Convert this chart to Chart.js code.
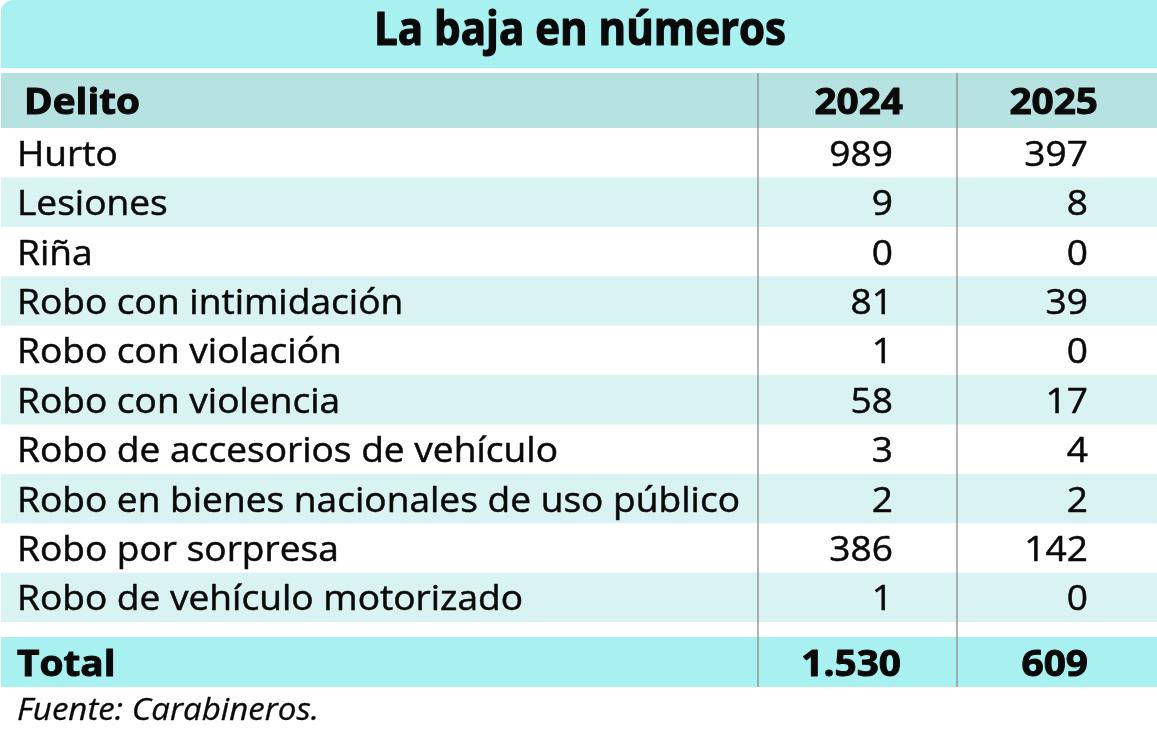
<!DOCTYPE html>
<html lang="es">
<head>
<meta charset="utf-8">
<title>La baja en números</title>
<script src="https://cdn.jsdelivr.net/npm/chart.js@4.4.1/dist/chart.umd.min.js"></script>
<style>
    html, body { margin: 0; padding: 0; background: #ffffff; }
    #wrap { width: 1157px; height: 733px; position: relative; }
</style>
</head>
<body>
<div id="wrap"><canvas id="tableChart"></canvas></div>
<script>
// ========== DATA ==========

const title = 'La baja en números';
const headers = ['Delito', '2024', '2025'];
const delitos = [
    'Hurto',
    'Lesiones',
    'Riña',
    'Robo con intimidación',
    'Robo con violación',
    'Robo con violencia',
    'Robo de accesorios de vehículo',
    'Robo en bienes nacionales de uso público',
    'Robo por sorpresa',
    'Robo de vehículo motorizado'
];
const values2024 = [989, 9, 0, 81, 1, 58, 3, 2, 386, 1];
const values2025 = [397, 8, 0, 39, 0, 17, 4, 2, 142, 0];
const totalLabel = 'Total';
const totals = [1530, 609];
const source = 'Fuente: Carabineros.';

// ========== LAYOUT (design px, mapped through the chart scales) ==========

const W = 1157, H = 733;
const TITLE_BAND = [0, 68];
const HEADER_BAND = [73, 128];
const ROW_TOP = 128;
const ROW_H = 49.4;
const TOTAL_BAND = [637, 687];
const COL_LINES = [758, 957];
const NUM_RIGHT = [893, 1088];
const HEAD_RIGHT = [903, 1098];
const TOTAL_RIGHT = [901, 1088];

const COLORS = {
    title: '#a9f0f0',
    header: '#b6e2e2',
    stripe: '#d9f2f2',
    total: '#a9f0f0',
    rule: '#8a8a8a',
    text: '#0a0a0a'
};

const FONT = '"Open Sans", "Noto Sans", sans-serif';

function formatNum(n) {
    return String(n).replace(/\B(?=(\d{3})+(?!\d))/g, '.');
}

// ========== DRAW HELPERS ==========

function fitScale(ctx, font, str, target) {
    ctx.font = font;
    return target / ctx.measureText(str).width;
}

// weight: extra stroke width to darken the glyphs a little (Myriad-like)
function drawText(ctx, str, x, y, align, font, sx, weight = 0) {
    ctx.save();
    ctx.font = font;
    ctx.fillStyle = COLORS.text;
    ctx.strokeStyle = COLORS.text;
    ctx.lineJoin = 'round';
    ctx.textAlign = align;
    ctx.textBaseline = 'alphabetic';
    ctx.translate(x, y);
    ctx.scale(sx, 1);
    ctx.fillText(str, 0, 0);
    if (weight > 0) {
        ctx.lineWidth = weight;
        ctx.strokeText(str, 0, 0);
    }
    ctx.restore();
}

const tablePlugin = {
    id: 'tablePlugin',
    beforeDraw(chart) {
        const { ctx, scales: { x, y } } = chart;
        const px = v => x.getPixelForValue(v);
        const py = v => y.getPixelForValue(v);
        const band = (y0, y1, color, x0 = 0) => {
            ctx.fillStyle = color;
            ctx.fillRect(px(x0), py(y0), px(W) - px(x0), py(y1) - py(y0));
        };

        ctx.save();
        // title band with rounded top-left corner
        ctx.fillStyle = COLORS.title;
        ctx.beginPath();
        ctx.roundRect(px(1), py(TITLE_BAND[0]), px(W) - px(1), py(TITLE_BAND[1]) - py(TITLE_BAND[0]), [12, 0, 0, 0]);
        ctx.fill();

        band(HEADER_BAND[0], HEADER_BAND[1], COLORS.header, 1);
        delitos.forEach((d, i) => {
            if (i % 2 === 1) band(ROW_TOP + i * ROW_H, ROW_TOP + (i + 1) * ROW_H, COLORS.stripe, 1);
        });
        band(TOTAL_BAND[0], TOTAL_BAND[1], COLORS.total, 1);

        // column rules
        ctx.strokeStyle = COLORS.rule;
        ctx.lineWidth = 1.3;
        COL_LINES.forEach(cx => {
            ctx.beginPath();
            ctx.moveTo(px(cx), py(HEADER_BAND[0]));
            ctx.lineTo(px(cx), py(TOTAL_BAND[1]));
            ctx.stroke();
        });
        ctx.restore();
    },
    afterDraw(chart) {
        const { ctx, scales: { x, y } } = chart;
        const px = v => x.getPixelForValue(v);
        const py = v => y.getPixelForValue(v);

        const regular = '35px ' + FONT;
        const bold = 'bold 36px ' + FONT;
        const titleFont = 'bold 46px ' + FONT;
        const italic = 'italic 31px ' + FONT;

        const sxReg = fitScale(ctx, regular, delitos[7], px(740) - px(17));
        const sxTitle = fitScale(ctx, titleFont, title, px(786) - px(374));
        const sxBold = fitScale(ctx, bold, headers[0], px(140) - px(24));
        const sxItal = fitScale(ctx, italic, source, px(319) - px(17));

        // title
        drawText(ctx, title, px((374 + 786) / 2), py(45), 'center', titleFont, sxTitle, 1.2);

        // header
        const hBase = (HEADER_BAND[0] + HEADER_BAND[1]) / 2 + 13;
        drawText(ctx, headers[0], px(24), py(hBase), 'left', bold, sxBold, 1);
        drawText(ctx, headers[1], px(HEAD_RIGHT[0]), py(hBase), 'right', bold, sxBold, 1);
        drawText(ctx, headers[2], px(HEAD_RIGHT[1]), py(hBase), 'right', bold, sxBold, 1);

        // rows
        delitos.forEach((d, i) => {
            const base = ROW_TOP + (i + 0.5) * ROW_H + 13;
            drawText(ctx, d, px(17), py(base), 'left', regular, sxReg, 0.5);
            drawText(ctx, formatNum(values2024[i]), px(NUM_RIGHT[0]), py(base), 'right', regular, sxReg, 0.5);
            drawText(ctx, formatNum(values2025[i]), px(NUM_RIGHT[1]), py(base), 'right', regular, sxReg, 0.5);
        });

        // total
        const tBase = (TOTAL_BAND[0] + TOTAL_BAND[1]) / 2 + 14;
        drawText(ctx, totalLabel, px(17), py(tBase), 'left', bold, sxBold, 1);
        drawText(ctx, formatNum(totals[0]), px(TOTAL_RIGHT[0]), py(tBase), 'right', bold, sxBold, 1);
        drawText(ctx, formatNum(totals[1]), px(TOTAL_RIGHT[1]), py(tBase), 'right', bold, sxBold, 1);

        // source
        drawText(ctx, source, px(17), py(720), 'left', italic, sxItal, 0.3);
    }
};

// ========== CHART ==========

new Chart(document.getElementById('tableChart'), {
    type: 'scatter',
    data: { datasets: [] },
    options: {
        responsive: true,
        maintainAspectRatio: false,
        animation: false,
        events: [],
        layout: { padding: 0 },
        plugins: {
            legend: { display: false },
            tooltip: { enabled: false }
        },
        scales: {
            x: { type: 'linear', min: 0, max: W, display: false },
            y: { type: 'linear', min: 0, max: H, reverse: true, display: false }
        }
    },
    plugins: [tablePlugin]
});
</script>
</body>
</html>
